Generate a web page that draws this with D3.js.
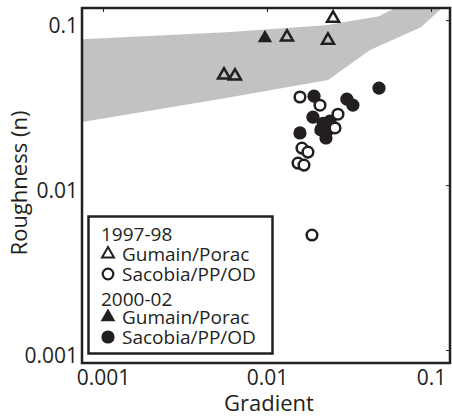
<!DOCTYPE html>
<html lang="en">
<head>
<meta charset="UTF-8">
<title>Roughness vs Gradient</title>
<script src="https://d3js.org/d3.v7.min.js"></script>
<style>
  body { margin: 0; background: #fff; }
  svg { display: block; font-family: "Open Sans", sans-serif; }
</style>
</head>
<body>
<svg width="452" height="418"></svg>
<script>
// tick labels
const tickValues = [0.001, 0.01, 0.1];
const tickLabels = ["0.001", "0.01", "0.1"];

// gray envelope (upper edge left->right, lower edge right->left)
const bandUpper = [[0.000745, 0.0767], [0.00562, 0.0846], [0.0229, 0.0933], [0.0482, 0.1057], [0.0603, 0.1185], [0.1167, 0.1185]];
const bandLower = [[0.1167, 0.1185], [0.0869, 0.0906], [0.0425, 0.0659], [0.0236, 0.0433], [0.00562, 0.0337], [0.000745, 0.0241]];

// 1997-98 Gumain/Porac (open triangles)
const gum97 = [[0.0253, 0.1028], [0.01324, 0.0789], [0.02355, 0.0756], [0.00547, 0.0464], [0.00638, 0.0458]];
// 2000-02 Gumain/Porac (filled triangles)
const gum02 = [[0.00972, 0.0778]];
// 1997-98 Sacobia/PP/OD (open circles)
const sac97 = [[0.01589, 0.0342], [0.02105, 0.0305], [0.0271, 0.0269], [0.0260, 0.0222], [0.01634, 0.01676],
               [0.01778, 0.01585], [0.01546, 0.01359], [0.01681, 0.01322], [0.01881, 0.00498]];
// 2000-02 Sacobia/PP/OD (filled circles)
const sac02 = [[0.01936, 0.0346], [0.0482, 0.0387], [0.0307, 0.0332], [0.0334, 0.0305], [0.01907, 0.0258],
               [0.01589, 0.0207], [0.0220, 0.0237], [0.0242, 0.0244], [0.0213, 0.0216], [0.0229, 0.0193], [0.02355, 0.0216]];

const legendRows = [
  { type: "title", text: "1997-98" },
  { type: "triOpen", text: "Gumain/Porac" },
  { type: "circOpen", text: "Sacobia/PP/OD" },
  { type: "title", text: "2000-02" },
  { type: "triFill", text: "Gumain/Porac" },
  { type: "circFill", text: "Sacobia/PP/OD" }
];

const ink = "#231f20";
const svg = d3.select("svg");
const plot = { left: 82, top: 8, right: 450, bottom: 363 };

const x = d3.scaleLog().domain([0.000745, 0.1306]).range([plot.left, plot.right]);
const y = d3.scaleLog().domain([0.000834, 0.1185]).range([plot.bottom, plot.top]);

svg.append("clipPath").attr("id", "clip")
  .append("rect")
  .attr("x", plot.left).attr("y", plot.top)
  .attr("width", plot.right - plot.left).attr("height", plot.bottom - plot.top);

// envelope
const band = bandUpper.concat(bandLower);
svg.append("path")
  .attr("clip-path", "url(#clip)")
  .attr("d", d3.line().x(d => x(d[0])).y(d => y(d[1]))(band) + "Z")
  .attr("fill", "#c1c2c4");

// axes
const xAxis = svg.append("g")
  .attr("transform", `translate(0,${plot.bottom})`)
  .call(d3.axisBottom(x).tickValues(tickValues).tickFormat((d, i) => tickLabels[i]).tickSize(0).tickPadding(7));
const yAxis = svg.append("g")
  .attr("transform", `translate(${plot.left},0)`)
  .call(d3.axisLeft(y).tickValues(tickValues).tickFormat((d, i) => tickLabels[i]).tickSize(0).tickPadding(4));
[xAxis, yAxis].forEach(g => {
  g.select(".domain").remove();
  g.selectAll("text").attr("font-size", 21).attr("fill", ink).attr("font-family", "Open Sans, sans-serif");
});
yAxis.selectAll("text").attr("dy", "0.6em");

// small inward ticks on top and right
svg.append("g")
  .attr("transform", `translate(0,${plot.top})`)
  .call(d3.axisTop(x).tickValues(tickValues).tickFormat("").tickSize(-4))
  .call(g => g.select(".domain").remove())
  .selectAll("line").attr("stroke", ink);
svg.append("g")
  .attr("transform", `translate(${plot.right},0)`)
  .call(d3.axisRight(y).tickValues(tickValues).tickFormat("").tickSize(-4))
  .call(g => g.select(".domain").remove())
  .selectAll("line").attr("stroke", ink);

// points
const tri = d3.symbol().type(d3.symbolTriangle);
const g = svg.append("g").attr("clip-path", "url(#clip)");

g.selectAll(".tf").data(gum02).enter().append("path")
  .attr("transform", d => `translate(${x(d[0])},${y(d[1])})`)
  .attr("d", tri.size(90)()).attr("fill", ink);
g.selectAll(".to").data(gum97).enter().append("path")
  .attr("transform", d => `translate(${x(d[0])},${y(d[1])})`)
  .attr("d", tri.size(62)()).attr("fill", "none").attr("stroke", ink).attr("stroke-width", 2.5);
g.selectAll(".cf").data(sac02).enter().append("circle")
  .attr("cx", d => x(d[0])).attr("cy", d => y(d[1])).attr("r", 6.6).attr("fill", ink);
g.selectAll(".co").data(sac97).enter().append("circle")
  .attr("cx", d => x(d[0])).attr("cy", d => y(d[1])).attr("r", 5.3)
  .attr("fill", "#fff").attr("stroke", ink).attr("stroke-width", 2.5);

// frame
svg.append("rect")
  .attr("x", plot.left).attr("y", plot.top)
  .attr("width", plot.right - plot.left).attr("height", plot.bottom - plot.top)
  .attr("fill", "none").attr("stroke", ink).attr("stroke-width", 2.5);

// axis titles
svg.append("text")
  .attr("x", 269).attr("y", 411)
  .attr("text-anchor", "middle").attr("font-size", 22).attr("fill", ink)
  .text("Gradient");
svg.append("text")
  .attr("transform", "translate(27,183) rotate(-90)")
  .attr("text-anchor", "middle").attr("font-size", 22).attr("fill", ink)
  .text("Roughness (n)");

// legend
const lg = svg.append("g");
lg.append("rect")
  .attr("x", 88.5).attr("y", 216.5).attr("width", 184).attr("height", 137)
  .attr("fill", "#fff").attr("stroke", ink).attr("stroke-width", 2.5);
const rowY = [241, 261, 281, 306, 324, 344];
legendRows.forEach((r, i) => {
  const by = rowY[i];
  if (r.type === "title") {
    lg.append("text").attr("x", 101).attr("y", by).attr("font-size", 19).attr("fill", ink).text(r.text);
    return;
  }
  const cy = by - 7;
  if (r.type === "triOpen") {
    lg.append("path").attr("transform", `translate(108,${cy})`).attr("d", tri.size(62)())
      .attr("fill", "none").attr("stroke", ink).attr("stroke-width", 2);
  } else if (r.type === "triFill") {
    lg.append("path").attr("transform", `translate(108,${cy})`).attr("d", tri.size(95)()).attr("fill", ink);
  } else if (r.type === "circOpen") {
    lg.append("circle").attr("cx", 108).attr("cy", cy).attr("r", 5.3)
      .attr("fill", "none").attr("stroke", ink).attr("stroke-width", 2.2);
  } else {
    lg.append("circle").attr("cx", 108).attr("cy", cy).attr("r", 6.6).attr("fill", ink);
  }
  lg.append("text").attr("x", 122).attr("y", by).attr("font-size", 19).attr("fill", ink).text(r.text);
});
</script>
</body>
</html>
